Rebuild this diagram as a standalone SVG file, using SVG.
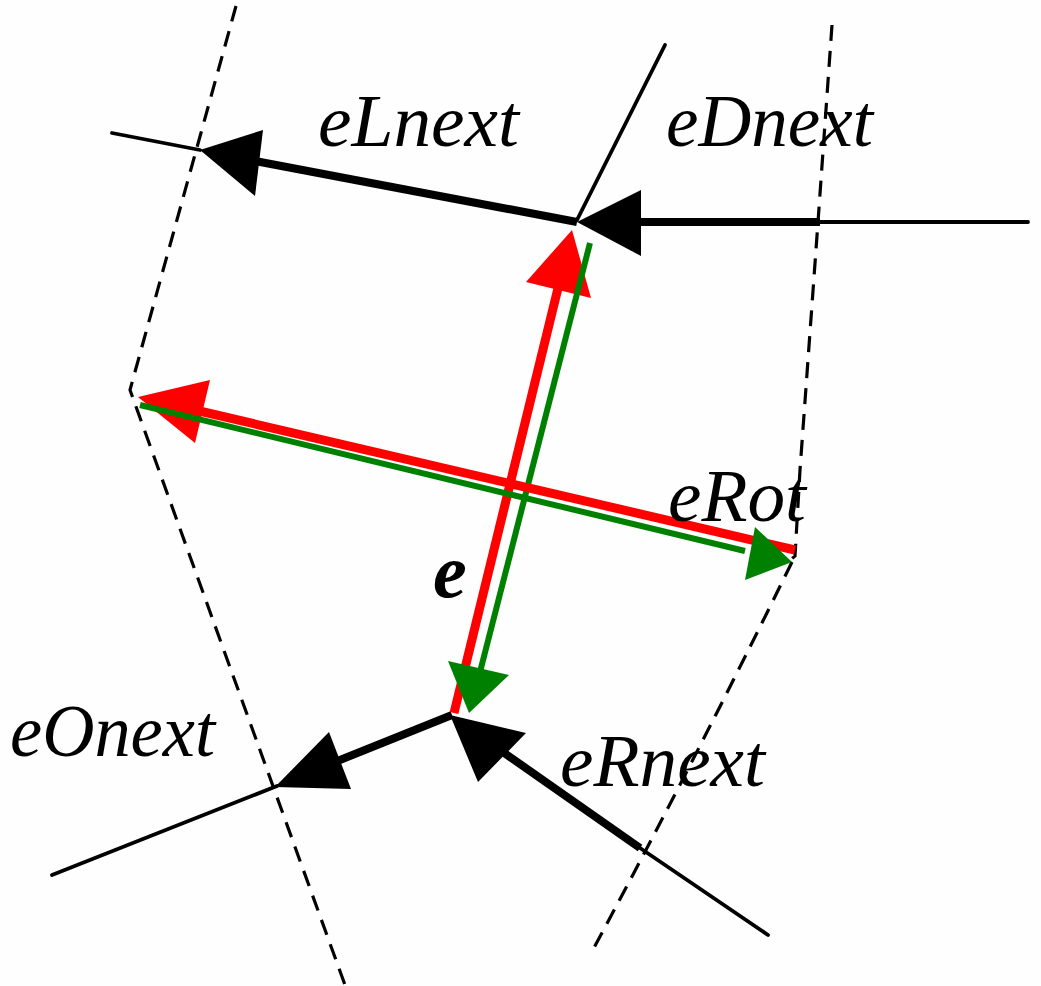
<svg xmlns="http://www.w3.org/2000/svg" width="1041" height="986" viewBox="0 0 1041 986">
<style>
.bg{fill:#fdfefd}
.dash{fill:none;stroke:#000;stroke-width:3.2;stroke-dasharray:16 10}
.thin{fill:none;stroke:#000;stroke-width:3.8;stroke-linecap:round}
.thick{fill:none;stroke:#000;stroke-width:8}
.head{fill:#000}
.red{fill:none;stroke:#ff0000;stroke-width:9}
.redh{fill:#ff0000}
.grn{fill:none;stroke:#008000;stroke-width:6}
.grnh{fill:#008000}
.lbl{font-family:"Liberation Serif","Times New Roman",serif;font-style:italic;font-size:73px;fill:#000}
.bold{font-weight:bold;font-size:76px}
</style>
<rect class="bg" x="0" y="0" width="1041" height="986"/>
<g id="dual-faces">
<path class="dash" d="M236,6 L130,390 Q 220,640 345,985"/>
<path class="dash" d="M832,25 L818,222 L800,470 L795,556 L789,561"/>
<path class="dash" d="M792,562 Q 690,770 590,955"/>
</g>
<g id="connectors">
<g id="eLnext">
<line class="thin" x1="112" y1="133" x2="200" y2="150"/>
<line class="thick" x1="255" y1="161" x2="577" y2="222"/>
<polygon class="head" points="200,150 263,130 255,196"/>
</g>
<g id="eDnext">
<line class="thin" x1="820" y1="222" x2="1028" y2="222"/>
<line class="thick" x1="630" y1="222" x2="820" y2="222"/>
<polygon class="head" points="577,222 641,190 641,256"/>
<line class="thin" x1="577" y1="220" x2="665" y2="45"/>
</g>
<g id="eOnext">
<line class="thin" x1="52" y1="875" x2="277" y2="786"/>
<line class="thick" x1="335" y1="762" x2="452" y2="715"/>
<polygon class="head" points="275,787 329,732 351,789"/>
</g>
<g id="eRnext">
<line class="thin" x1="640" y1="848" x2="768" y2="935"/>
<line class="thick" x1="500" y1="750" x2="640" y2="848"/>
<polygon class="head" points="450,715 526,733 478,782"/>
</g>
<g id="e-red">
<line class="red" x1="454" y1="713" x2="560" y2="280"/>
<polygon class="redh" points="572,230 591,298 526,282"/>
</g>
<g id="e-green">
<line class="grn" x1="590" y1="243" x2="480" y2="672"/>
<polygon class="grnh" points="469,713 509,675 448,661"/>
</g>
<g id="eRot-red">
<line class="red" x1="795" y1="550" x2="195" y2="410"/>
<polygon class="redh" points="138,397 210,380 195,443"/>
</g>
<g id="eRot-green">
<line class="grn" x1="140" y1="405" x2="745" y2="551"/>
<polygon class="grnh" points="792,562 755,527 745,580"/>
</g>
</g>
<g id="labels">
<text class="lbl" x="318" y="146" textLength="201" lengthAdjust="spacingAndGlyphs">eLnext</text>
<text class="lbl" x="666" y="146" textLength="207" lengthAdjust="spacingAndGlyphs">eDnext</text>
<text class="lbl" x="668" y="521" textLength="138" lengthAdjust="spacingAndGlyphs">eRot</text>
<text class="lbl bold" x="433" y="597">e</text>
<text class="lbl" x="10" y="756" textLength="205" lengthAdjust="spacingAndGlyphs">eOnext</text>
<text class="lbl" x="560" y="786" textLength="205" lengthAdjust="spacingAndGlyphs">eRnext</text>
</g>
</svg>
